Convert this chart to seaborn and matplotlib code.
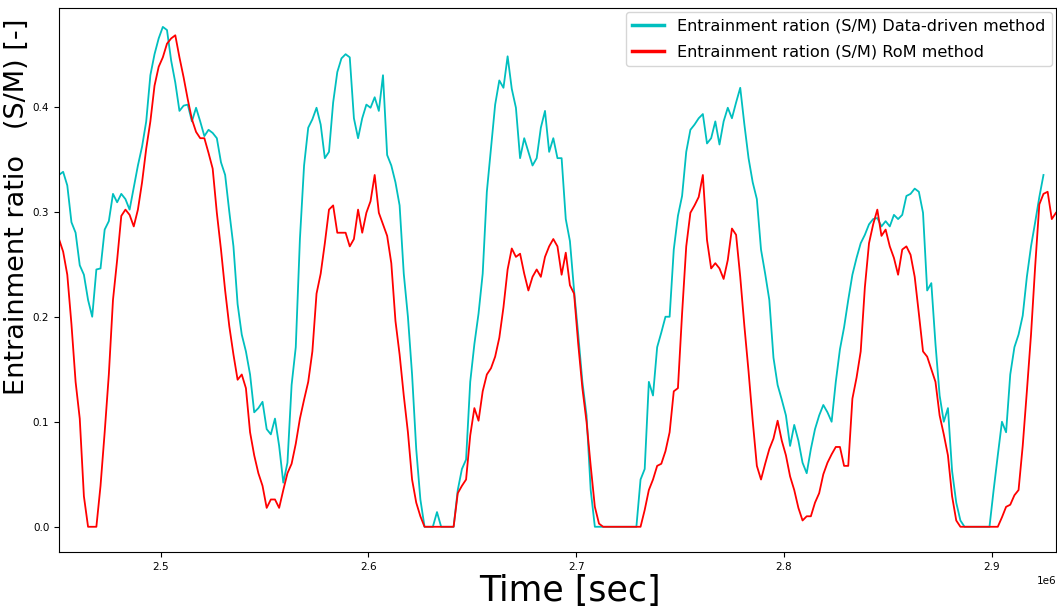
import numpy as np
import seaborn as sns
import matplotlib
matplotlib.use("Agg")
import matplotlib.pyplot as plt

# sampling grid of the record, one value every 2000 s
time_sec = np.linspace(2451000, 2931000, 241)

# entrainment ratio, data-driven estimate (record stops a bit before the end)
data_driven = [
    0.335, 0.338, 0.325, 0.290, 0.280, 0.249, 0.240, 0.216, 0.200, 0.245,
    0.246, 0.283, 0.291, 0.317, 0.309, 0.317, 0.312, 0.302, 0.323, 0.344,
    0.362, 0.386, 0.430, 0.450, 0.465, 0.476, 0.473, 0.444, 0.423, 0.396,
    0.401, 0.402, 0.386, 0.399, 0.386, 0.372, 0.378, 0.375, 0.370, 0.347,
    0.335, 0.300, 0.267, 0.212, 0.183, 0.167, 0.145, 0.109, 0.113, 0.119,
    0.093, 0.088, 0.103, 0.077, 0.042, 0.061, 0.135, 0.171, 0.274, 0.344,
    0.380, 0.388, 0.399, 0.383, 0.351, 0.357, 0.404, 0.433, 0.446, 0.450,
    0.447, 0.389, 0.370, 0.389, 0.402, 0.399, 0.409, 0.396, 0.430, 0.354,
    0.344, 0.328, 0.306, 0.241, 0.200, 0.145, 0.074, 0.026, 0.0, 0.0,
    0.0, 0.014, 0.0, 0.0, 0.0, 0.0, 0.035, 0.055, 0.064, 0.138,
    0.174, 0.203, 0.241, 0.319, 0.360, 0.402, 0.425, 0.418, 0.448, 0.417,
    0.399, 0.351, 0.370, 0.357, 0.344, 0.351, 0.380, 0.396, 0.357, 0.370,
    0.351, 0.351, 0.293, 0.272, 0.225, 0.183, 0.138, 0.106, 0.035, 0.0,
    0.0, 0.0, 0.0, 0.0, 0.0, 0.0, 0.0, 0.0, 0.0, 0.0,
    0.045, 0.055, 0.138, 0.125, 0.171, 0.185, 0.200, 0.200, 0.264, 0.296,
    0.315, 0.357, 0.378, 0.383, 0.389, 0.393, 0.365, 0.370, 0.386, 0.364,
    0.386, 0.399, 0.389, 0.404, 0.418, 0.383, 0.351, 0.328, 0.312, 0.264,
    0.241, 0.216, 0.161, 0.135, 0.121, 0.106, 0.077, 0.097, 0.082, 0.061,
    0.051, 0.074, 0.093, 0.106, 0.116, 0.109, 0.100, 0.138, 0.169, 0.190,
    0.216, 0.240, 0.256, 0.270, 0.278, 0.288, 0.293, 0.294, 0.286, 0.291,
    0.286, 0.297, 0.293, 0.297, 0.315, 0.317, 0.322, 0.319, 0.299, 0.225,
    0.232, 0.174, 0.125, 0.100, 0.113, 0.053, 0.023, 0.006, 0.0, 0.0,
    0.0, 0.0, 0.0, 0.0, 0.0, 0.035, 0.068, 0.100, 0.090, 0.145,
    0.171, 0.183, 0.201, 0.238, 0.267, 0.290, 0.314, 0.335,
]

# entrainment ratio, RoM estimate
rom = [
    0.274, 0.262, 0.240, 0.193, 0.138, 0.103, 0.029, 0.0, 0.0, 0.0,
    0.039, 0.090, 0.145, 0.216, 0.254, 0.296, 0.302, 0.297, 0.286, 0.302,
    0.328, 0.360, 0.386, 0.420, 0.438, 0.447, 0.460, 0.465, 0.468, 0.447,
    0.428, 0.407, 0.388, 0.376, 0.370, 0.370, 0.356, 0.341, 0.299, 0.264,
    0.225, 0.191, 0.164, 0.140, 0.145, 0.132, 0.090, 0.068, 0.051, 0.039,
    0.018, 0.026, 0.026, 0.018, 0.035, 0.051, 0.060, 0.079, 0.103, 0.121,
    0.138, 0.167, 0.222, 0.241, 0.270, 0.302, 0.306, 0.280, 0.280, 0.280,
    0.267, 0.274, 0.302, 0.280, 0.299, 0.310, 0.335, 0.299, 0.288, 0.277,
    0.251, 0.196, 0.164, 0.125, 0.090, 0.045, 0.023, 0.010, 0.0, 0.0,
    0.0, 0.0, 0.0, 0.0, 0.0, 0.0, 0.032, 0.039, 0.045, 0.087,
    0.113, 0.101, 0.129, 0.145, 0.151, 0.162, 0.180, 0.209, 0.245, 0.265,
    0.257, 0.260, 0.241, 0.225, 0.238, 0.245, 0.238, 0.257, 0.267, 0.274,
    0.267, 0.240, 0.261, 0.230, 0.222, 0.174, 0.132, 0.100, 0.058, 0.019,
    0.003, 0.0, 0.0, 0.0, 0.0, 0.0, 0.0, 0.0, 0.0, 0.0,
    0.0, 0.016, 0.035, 0.045, 0.058, 0.060, 0.072, 0.090, 0.129, 0.132,
    0.203, 0.267, 0.299, 0.306, 0.314, 0.335, 0.273, 0.246, 0.251, 0.246,
    0.236, 0.254, 0.284, 0.278, 0.238, 0.191, 0.148, 0.101, 0.058, 0.045,
    0.060, 0.074, 0.084, 0.101, 0.082, 0.068, 0.048, 0.035, 0.018, 0.006,
    0.010, 0.010, 0.023, 0.032, 0.050, 0.061, 0.069, 0.076, 0.076, 0.058,
    0.058, 0.122, 0.142, 0.167, 0.228, 0.270, 0.288, 0.302, 0.277, 0.283,
    0.267, 0.256, 0.240, 0.264, 0.267, 0.259, 0.238, 0.203, 0.167, 0.162,
    0.150, 0.138, 0.106, 0.088, 0.068, 0.029, 0.006, 0.0, 0.0, 0.0,
    0.0, 0.0, 0.0, 0.0, 0.0, 0.0, 0.0, 0.009, 0.019, 0.021,
    0.030, 0.035, 0.077, 0.129, 0.183, 0.248, 0.307, 0.317, 0.319, 0.293,
    0.299,
]

label_data = "Entrainment ration (S/M) Data-driven method"
label_rom = "Entrainment ration (S/M) RoM method"

fig = plt.figure(figsize=(10.57, 6.14), dpi=100)
ax = fig.add_axes([0.0558, 0.101, 0.9432, 0.886])

sns.lineplot(x=time_sec[:len(data_driven)], y=data_driven, color="c",
             linewidth=1.3, label=label_data, ax=ax)
sns.lineplot(x=time_sec[:len(rom)], y=rom, color="red",
             linewidth=1.3, label=label_rom, ax=ax)

ax.set_xlim(time_sec[0], time_sec[-1])
ax.set_ylim(-0.024, 0.494)
ax.set_yticks([0.0, 0.1, 0.2, 0.3, 0.4])
ax.tick_params(labelsize=7.5)
ax.xaxis.get_offset_text().set_fontsize(7.5)

ax.set_xlabel("Time [sec]", fontsize=25)
ax.xaxis.set_label_coords(0.5125, -0.04)
ax.set_ylabel("Entrainment ratio   (S/M) [-]", fontsize=19.5)
ax.yaxis.set_label_coords(-0.0295, 0.634)

leg = ax.legend(loc="upper right", fontsize=11.6, borderaxespad=0.25,
                labelspacing=0.7)
for line in leg.get_lines():
    line.set_linewidth(2.5)

fig.savefig("out.png", dpi=100)
plt.close(fig)
